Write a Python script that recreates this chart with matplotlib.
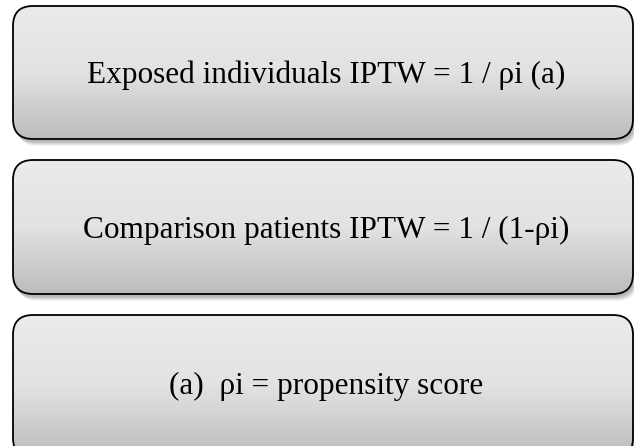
import matplotlib
matplotlib.use("Agg")
import matplotlib.pyplot as plt
import numpy as np
from matplotlib.patches import FancyBboxPatch

# box texts and their vertical extents (pixels from top)
labels = ["Exposed individuals IPTW = 1 / \u03c1i (a)",
          "Comparison patients IPTW = 1 / (1-\u03c1i)",
          "(a)  \u03c1i = propensity score"]
box_top = [6, 160, 315]
box_bottom = [139, 294, 458]
box_left = 13
box_right = 633

W, H = 634, 446
fig = plt.figure(figsize=(W / 100, H / 100), dpi=100)
ax = fig.add_axes([0, 0, 1, 1])
ax.set_xlim(0, W)
ax.set_ylim(0, H)
ax.axis("off")

# vertical gradient light -> darker grey (row 0 = top)
grad = np.linspace(0, 1, 256).reshape(-1, 1)
cmap = matplotlib.colors.LinearSegmentedColormap.from_list("g", ["#ebebeb", "#e2e2e2", "#bcbcbc"])

for text, top, bot in zip(labels, box_top, box_bottom):
    w = box_right - box_left
    h = bot - top
    y0 = H - bot
    style = "round,pad=0,rounding_size=20"
    # soft shadow: stacked translucent copies
    for k in range(8, 0, -1):
        sh = FancyBboxPatch((box_left + 1 + k * 0.4, y0 - 2 - k * 0.6), w, h,
                            boxstyle=style, fc="black", ec="none",
                            alpha=0.04, zorder=1)
        ax.add_patch(sh)
    box = FancyBboxPatch((box_left, y0), w, h, boxstyle=style,
                         fc="none", ec="black", lw=1.3, zorder=3)
    ax.add_patch(box)
    im = ax.imshow(grad, cmap=cmap, aspect="auto", origin="upper",
                   extent=[box_left, box_right, y0, H - top], zorder=2)
    im.set_clip_path(box)
    ax.text(326, H - (top + min(bot, 452)) / 2 - 3, text,
            ha="center", va="center", fontsize=22.5,
            family="Liberation Serif", zorder=4)

fig.savefig("out.png", dpi=100)
